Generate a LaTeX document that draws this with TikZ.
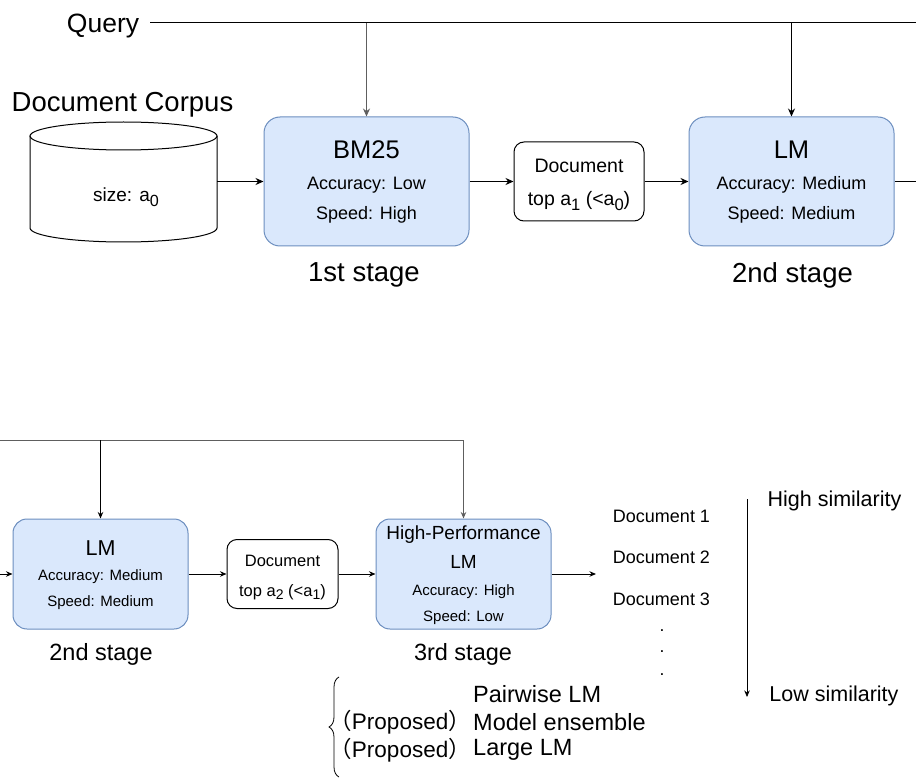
\documentclass[tikz,border=0pt]{standalone}
\usepackage{fontspec}
\setmainfont{Liberation Sans}
\newfontfamily\cjk{Noto Sans CJK JP}
\usepackage{graphicx}
\usepackage{tikz}
\usetikzlibrary{arrows.meta}
\usetikzlibrary{decorations.pathreplacing}
\definecolor{boxfill}{HTML}{DAE8FC}
\definecolor{boxline}{HTML}{6C8EBF}
\definecolor{feedgray}{HTML}{5E5E5E}
\newcommand{\fsz}[1]{\fontsize{#1}{#1}\selectfont}
\newcommand{\lowsub}[1]{\raisebox{-0.45ex}{\scalebox{0.85}{#1}}}
\tikzset{
  stagebox/.style={draw=boxline,fill=boxfill,line width=1pt,rounded corners=16pt},
  docbox/.style={draw=black,line width=1pt,rounded corners=10pt},
  flow/.style={-{Stealth[length=8pt,width=7pt]},line width=1pt},
  smallflow/.style={-{Stealth[length=6.5pt,width=5.5pt]},line width=0.9pt},
  plain/.style={line width=1pt}
}

\begin{document}
\begin{tikzpicture}[x=1pt,y=-1pt]
 \useasboundingbox (0,0) rectangle (916,778);
 %first row
  %draw boxes
    \node[stagebox,minimum width=205pt,minimum height=129pt] (bm25) at (366.5,181.5) {};
    \node[docbox,minimum width=130pt,minimum height=79pt] (doc1) at (579,181.5) {};
    \node[stagebox,minimum width=205pt,minimum height=129pt] (lm1) at (791.5,181.5) {};
  %corpus
    \node[minimum width=187pt,minimum height=120pt] (corpus) at (123.5,182) {};
    \draw[plain] (123.5,136) ellipse [x radius=93.5pt,y radius=14pt];
    \draw[plain] (30,136) -- (30,228) arc [start angle=180,end angle=360,x radius=93.5pt,y radius=14pt] -- (217,136);
  %texts
    \node[font=\fsz{26.5}] (query) at (103,26) {Query};
    \node[font=\fsz{27.5}] (corpusname) at (122.5,105) {Document Corpus};
    \node[font=\fsz{19}] (corpussize) at (126,197) {size: a\lowsub{0}};
    \node[font=\fsz{25.5}] (bm25name) at (366.5,150) {BM25};
    \node[font=\fsz{18}] (bm25acc) at (366.5,185) {Accuracy: Low};
    \node[font=\fsz{18}] (bm25spd) at (366.5,215) {Speed: High};
    \node[font=\fsz{19.5}] (doc1a) at (579,166) {Document};
    \node[font=\fsz{19.5}] (doc1b) at (579,201) {top a\lowsub{1} (<a\lowsub{0})};
    \node[font=\fsz{25.5}] (lm1name) at (791.5,150) {LM};
    \node[font=\fsz{18}] (lm1acc) at (791.5,185) {Accuracy: Medium};
    \node[font=\fsz{18}] (lm1spd) at (791.5,215) {Speed: Medium};
    \node[font=\fsz{27.5}] (stage1) at (364,275) {1st stage};
    \node[font=\fsz{27.5}] (stage2) at (792.5,275) {2nd stage};
  %draw edges
    \coordinate (qstart) at (150,23);
    \coordinate (qend) at (916,23);
    \coordinate (qbm) at (366.5,23);
    \coordinate (qlm) at (791.5,23);
    \coordinate (lm1out) at (916,181.5);
    \draw[plain] (qstart) -- (qend);
    \draw[flow,feedgray] (qbm) -- (bm25.north);
    \draw[flow] (qlm) -- (lm1.north);
    \draw[flow] (corpus.east |- bm25.west) -- (bm25.west);
    \draw[flow] (bm25) -- (doc1);
    \draw[flow] (doc1) -- (lm1);
    \draw[plain] (lm1.east) -- (lm1out);
 %second row
  %draw boxes
    \node[stagebox,rounded corners=14pt,minimum width=175pt,minimum height=110pt] (lm2) at (100.5,574) {};
    \node[docbox,minimum width=111pt,minimum height=69pt] (doc2) at (282.5,574) {};
    \node[stagebox,rounded corners=14pt,minimum width=175pt,minimum height=110pt] (hp) at (463.5,574) {};
  %texts
    \node[font=\fsz{21.5}] (lm2name) at (100.5,548) {LM};
    \node[font=\fsz{15}] (lm2acc) at (100.5,577) {Accuracy: Medium};
    \node[font=\fsz{15}] (lm2spd) at (100.5,603) {Speed: Medium};
    \node[font=\fsz{16.5}] (doc2a) at (282.5,561) {Document};
    \node[font=\fsz{16.5}] (doc2b) at (282.5,592) {top a\lowsub{2} (<a\lowsub{1})};
    \node[font=\fsz{19}] (hpname) at (463.5,535) {High-Performance};
    \node[font=\fsz{19}] (hpname2) at (463.5,562) {LM};
    \node[font=\fsz{15}] (hpacc) at (463.5,592) {Accuracy: High};
    \node[font=\fsz{15}] (hpspd) at (463.5,618) {Speed: Low};
    \node[font=\fsz{23.5}] (stage2b) at (101,654) {2nd stage};
    \node[font=\fsz{23.5}] (stage3) at (463,654) {3rd stage};
  %ranking
    \node[font=\fsz{18}] (rank1) at (661.5,516) {Document 1};
    \node[font=\fsz{18}] (rank2) at (661.5,557) {Document 2};
    \node[font=\fsz{18}] (rank3) at (661.5,599) {Document 3};
    \foreach \y [count=\i] in {631,652,675}
      \node[font=\fsz{17.5},inner sep=0pt] (dot\i) at (662,\y) {.};
    \node[font=\fsz{21.5}] (highsim) at (834.5,501) {High similarity};
    \node[font=\fsz{21.5}] (lowsim) at (834,696) {Low similarity};
  %models
    \node[font=\fsz{23.5},anchor=west,inner sep=0pt] (pairwise) at (473,694) {Pairwise LM};
    \node[font=\fsz{22.5},anchor=east,inner sep=0pt] (prop1) at (471,722) {{\cjk（}Proposed{\cjk）}};
    \node[font=\fsz{23.5},anchor=west,inner sep=0pt] (ensemble) at (473,722) {Model ensemble};
    \node[font=\fsz{22.5},anchor=east,inner sep=0pt] (prop2) at (471,750) {{\cjk（}Proposed{\cjk）}};
    \node[font=\fsz{23.5},anchor=west,inner sep=0pt] (largelm) at (473,750) {Large LM};
  %draw edges
    \coordinate (feedin) at (0,440);
    \coordinate (feedtap) at (100.5,440);
    \coordinate (feedturn) at (463.5,440);
    \coordinate (rowin) at (0,574);
    \coordinate (rankin) at (596,574);
    \coordinate (simtop) at (747,499);
    \coordinate (simbot) at (747,697);
    \coordinate (brtop) at (339,677);
    \coordinate (brbot) at (339,777);
    \draw[smallflow,feedgray] (feedin) -- (feedturn) -- (hp.north);
    \draw[smallflow] (feedtap) -- (lm2.north);
    \draw[smallflow] (rowin) -- (lm2.west);
    \draw[smallflow] (lm2) -- (doc2);
    \draw[smallflow] (doc2) -- (hp);
    \draw[smallflow] (hp.east) -- (rankin);
    \draw[smallflow,line width=0.8pt] (simtop) -- (simbot);
    \draw[decorate,decoration={brace,amplitude=10pt},line width=0.8pt] (brbot) -- (brtop);
\end{tikzpicture}
\end{document}
